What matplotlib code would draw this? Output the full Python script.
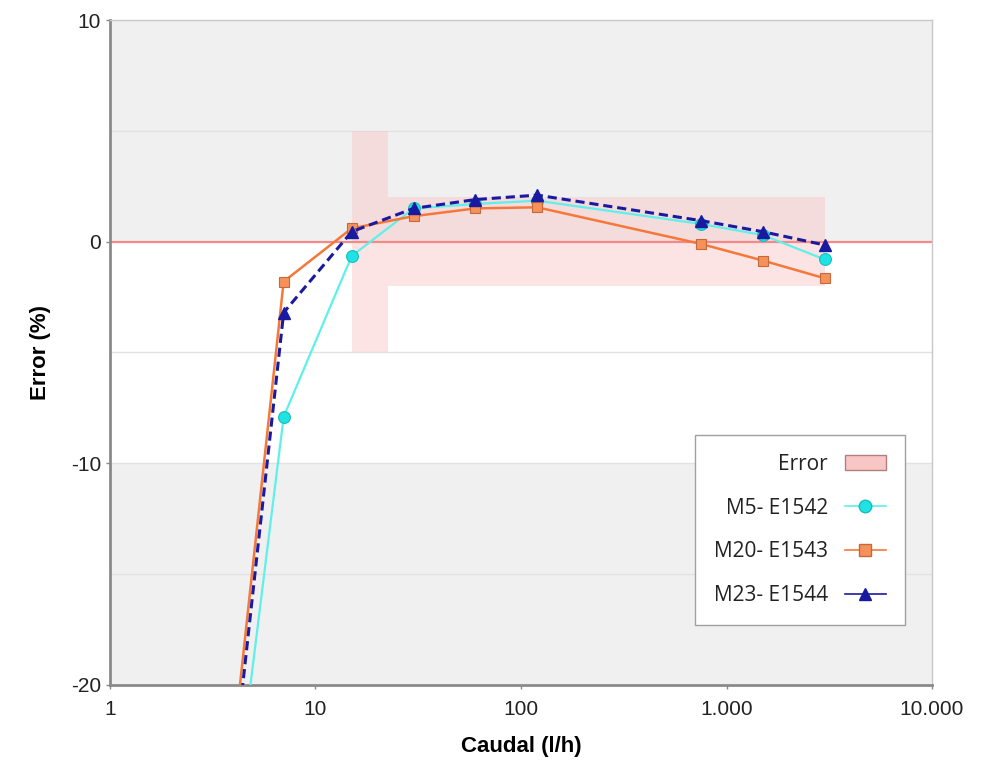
import matplotlib
matplotlib.use("Agg")
import matplotlib.pyplot as plt
from matplotlib.patches import Patch
from matplotlib.lines import Line2D

# ---- data ----
caudal = [4, 7, 15, 30, 60, 120, 750, 1500, 3000]
m5 = [-26.1, -7.9, -0.65, 1.5, 1.7, 1.85, 0.8, 0.3, -0.8]
m20 = [-22.6, -1.8, 0.6, 1.15, 1.5, 1.55, -0.1, -0.85, -1.65]
m23 = [-23.7, -3.2, 0.45, 1.5, 1.9, 2.1, 0.95, 0.45, -0.15]

err_x = [15, 22.5, 22.5, 3000]
err_hi = [5, 5, 2, 2]
err_lo = [-5, -5, -2, -2]

xticks = [1, 10, 100, 1000, 10000]
xticklabels = ["1", "10", "100", "1.000", "10.000"]
yticks = [-20, -10, 0, 10]
yticklabels = ["-20", "-10", "0", "10"]
series_labels = ["M5- E1542", "M20- E1543", "M23- E1544"]

plt.rcParams['font.family'] = ['Liberation Sans', 'DejaVu Sans']
plt.rcParams['axes.unicode_minus'] = False

fig = plt.figure(figsize=(9.81, 7.61), dpi=100)
ax = fig.add_axes([0.1121, 0.0999, 0.838, 0.8738])

ax.set_xscale('log')
ax.set_xlim(1, 10000)
ax.set_ylim(-20, 10)

# background bands
ax.set_facecolor('white')
ax.axhspan(0, 10, color='#f0f0f0', zorder=0, lw=0)
ax.axhspan(-20, -10, color='#f0f0f0', zorder=0, lw=0)
for yv in [-15, -10, -5, 5]:
    ax.axhline(yv, color='#e2e2e2', lw=1, zorder=0.5)

# error band
ax.fill_between(err_x, err_lo, err_hi, color='#fbcaca', alpha=0.5, lw=0, zorder=1)
ax.axhline(0, color='#f28a8a', lw=1.6, zorder=1.5)

ax.plot(caudal, m5, color='#5ff0ea', lw=1.6, marker='o', ms=8.5,
        mfc='#1fe3e3', mec='#18bcbc', mew=0.8, zorder=3)
ax.plot(caudal, m20, color='#f5783a', lw=1.8, marker='s', ms=7.5,
        mfc='#f7915a', mec='#c4693c', mew=0.8, zorder=3)
ax.plot(caudal, m23, color='#1a1aa0', lw=2.2, ls=(0, (3, 1.6)), marker='^', ms=8.5,
        mfc='#1a1aa0', mec='#1a1aa0', zorder=4)

# axes styling
for s in ['top', 'right']:
    ax.spines[s].set_color('#c8c8c8')
    ax.spines[s].set_linewidth(1)
for s in ['left', 'bottom']:
    ax.spines[s].set_color('#8a8a8a')
    ax.spines[s].set_linewidth(2)

ax.set_xticks(xticks)
ax.set_xticklabels(xticklabels)
ax.xaxis.set_minor_locator(matplotlib.ticker.NullLocator())
ax.set_yticks(yticks)
ax.set_yticklabels(yticklabels)
ax.tick_params(axis='both', labelsize=15, colors='#8a8a8a', labelcolor='#222222',
               length=3, width=1)
ax.tick_params(axis='x', pad=8)

ax.set_xlabel('Caudal (l/h)', fontsize=16, fontweight='bold', labelpad=12)
ax.set_ylabel('Error (%)', fontsize=16, fontweight='bold', labelpad=14)

handles = [
    Patch(facecolor='#f9c6c6', edgecolor='#b08080', label='Error'),
    Line2D([], [], color='#5ff0ea', lw=1.2, marker='o', ms=9, mfc='#1fe3e3', mec='#18bcbc', label=series_labels[0]),
    Line2D([], [], color='#f5783a', lw=1.2, marker='s', ms=8, mfc='#f7915a', mec='#c4693c', label=series_labels[1]),
    Line2D([], [], color='#1a1aa0', lw=1.2, marker='^', ms=9, mfc='#1a1aa0', mec='#1a1aa0', label=series_labels[2]),
]
leg = ax.legend(handles=handles, loc='lower right', bbox_to_anchor=(0.967, 0.09),
                borderaxespad=0, markerfirst=False, frameon=True, fancybox=False,
                edgecolor='#a0a0a0', framealpha=1, labelspacing=1.1,
                handlelength=2.0, borderpad=0.9,
                prop={'family': 'Open Sans', 'size': 15})
leg.get_frame().set_linewidth(1)
for t in leg.get_texts():
    t.set_ha('right')
    t.set_color('#222222')

fig.savefig('out.png', dpi=100)
